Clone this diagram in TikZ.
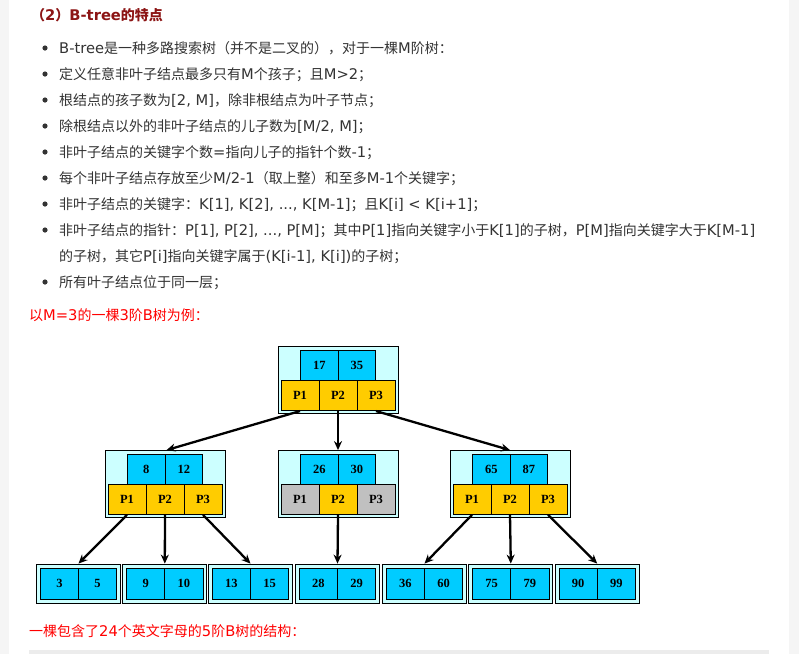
\documentclass[tikz,border=0pt]{standalone}
\usepackage{fontspec}
\setmainfont{DejaVu Sans}[Scale=1.05]
\newfontfamily\cjkfont{Noto Sans CJK SC}
\newfontfamily\numfont{Liberation Serif}
\usetikzlibrary{arrows.meta}
% automatic switch to the CJK font for CJK characters
\XeTeXinterchartokenstate=1
\newXeTeXintercharclass\cjkcls
\newcount\cjkcnt
\newcommand\cjkrange[2]{%
  \cjkcnt=#1\relax
  \loop
    \XeTeXcharclass\cjkcnt=\cjkcls
    \ifnum\cjkcnt<#2\relax
    \advance\cjkcnt by 1\relax
  \repeat}
\cjkrange{"3000}{"303F}
\cjkrange{"4E00}{"9FFF}
\cjkrange{"FF00}{"FFEF}
\XeTeXinterchartoks 0 \cjkcls = {\begingroup\cjkfont}
\XeTeXinterchartoks 4095 \cjkcls = {\begingroup\cjkfont}
\XeTeXinterchartoks \cjkcls 0 = {\endgroup}
\XeTeXinterchartoks \cjkcls 4095 = {\endgroup}
\definecolor{txtgray}{RGB}{51,51,51}
\definecolor{titlered}{RGB}{140,20,20}
\definecolor{lightcyan}{RGB}{204,255,255}
\definecolor{keyblue}{RGB}{0,204,255}
\definecolor{ptrgold}{RGB}{255,204,0}
\definecolor{ptrgray}{RGB}{192,192,192}
\definecolor{sidegray}{RGB}{245,245,245}
\definecolor{boxgray}{RGB}{236,236,236}
\tikzset{
  bodytext/.style={anchor=base west, inner sep=0pt, text=txtgray, font=\fontsize{14}{16}\selectfont},
  redtext/.style={anchor=base west, inner sep=0pt, text=red, font=\fontsize{14}{16}\selectfont},
  bulletdot/.style={fill=txtgray, draw=none},
  outerbox/.style={draw=black, fill=lightcyan, line width=0.8pt, inner sep=0pt},
  keycell/.style={draw=black, fill=keyblue, line width=0.7pt, minimum width=37.5, minimum height=30.5, inner sep=0pt, font=\numfont\bfseries\fontsize{12.5}{14}\selectfont},
  ptrcell/.style={draw=black, line width=0.7pt, minimum width=38, minimum height=30, inner sep=0pt, font=\numfont\bfseries\fontsize{12.5}{14}\selectfont},
  leafcell/.style={draw=black, fill=keyblue, line width=0.8pt, minimum width=38.2, minimum height=31, inner sep=0pt, font=\numfont\bfseries\fontsize{12.5}{14}\selectfont},
  arr/.style={draw=black, line width=2.3pt, -{Stealth[length=9pt,width=8pt]}}
}
\newcommand\BTinner[8]{%
  \node[outerbox, minimum width=120, minimum height=67] (#1) at (#2, #3+33.5) {};
  \node[keycell] (#1k1) at (#2-18.75, #3+18.75) {#4};
  \node[keycell] (#1k2) at (#2+18.75, #3+18.75) {#5};
  \node[ptrcell, fill=#6] (#1p1) at (#2-38, #3+49) {P1};
  \node[ptrcell, fill=#7] (#1p2) at (#2, #3+49) {P2};
  \node[ptrcell, fill=#8] (#1p3) at (#2+38, #3+49) {P3};
}
\newcommand\BTleaf[4]{%
  \node[outerbox, minimum width=84, minimum height=39] (#1) at (#2, 583.5) {};
  \node[leafcell] (#1a) at (#2-19.1, 583.7) {#3};
  \node[leafcell] (#1b) at (#2+19.1, 583.7) {#4};
}
\begin{document}
\begin{tikzpicture}[x=1pt,y=-1pt]
\useasboundingbox (0,0) rectangle (799,654);
\fill[white] (0,0) rectangle (799,654);
% side strips and bottom box
\fill[sidegray] (0,0) rectangle (9,654);
\fill[sidegray] (789,0) rectangle (799,654);
\fill[boxgray] (29,650) rectangle (769,654);

% title
\node[anchor=base west, inner sep=0pt, text=titlered, font=\bfseries\fontsize{14}{16}\selectfont] (title) at (31,20.5) {（2）B-tree的特点};

% bullets
\foreach \yy [count=\i] in {48,74,100,126,152,178,204,230,282} {
  \fill[bulletdot] (45,\yy) circle (2.6pt);
}
\node[bodytext] (l1) at (59,53) {B-tree是一种多路搜索树（并不是二叉的），对于一棵M阶树：};
\node[bodytext] (l2) at (59,79) {定义任意非叶子结点最多只有M个孩子；且M>2；};
\node[bodytext] (l3) at (59,105) {根结点的孩子数为[2, M]，除非根结点为叶子节点；};
\node[bodytext] (l4) at (59,131) {除根结点以外的非叶子结点的儿子数为[M/2, M]；};
\node[bodytext] (l5) at (59,157) {非叶子结点的关键字个数=指向儿子的指针个数-1；};
\node[bodytext] (l6) at (59,183) {每个非叶子结点存放至少M/2-1（取上整）和至多M-1个关键字；};
\node[bodytext] (l7) at (59,209) {非叶子结点的关键字：K[1], K[2], ..., K[M-1]；且K[i] < K[i+1]；};
\node[bodytext] (l8) at (59,235) {非叶子结点的指针：P[1], P[2], ..., P[M]；其中P[1]指向关键字小于K[1]的子树，P[M]指向关键字大于K[M-1]};
\node[bodytext] (l8b) at (59,261) {的子树，其它P[i]指向关键字属于(K[i-1], K[i])的子树；};
\node[bodytext] (l9) at (59,287) {所有叶子结点位于同一层；};

\node[redtext] (r1) at (29,320) {以M=3的一棵3阶B树为例：};
\node[redtext] (r2) at (29,636) {一棵包含了24个英文字母的5阶B树的结构：};

% tree
\BTinner{root}{338}{346.7}{17}{35}{ptrgold}{ptrgold}{ptrgold}
\BTinner{nl}{165}{450.5}{8}{12}{ptrgold}{ptrgold}{ptrgold}
\BTinner{nm}{338}{450.5}{26}{30}{ptrgray}{ptrgold}{ptrgray}
\BTinner{nr}{510}{450.5}{65}{87}{ptrgold}{ptrgold}{ptrgold}

\BTleaf{fa}{78.5}{3}{5}
\BTleaf{fb}{164.8}{9}{10}
\BTleaf{fc}{250.5}{13}{15}
\BTleaf{fd}{337.5}{28}{29}
\BTleaf{fe}{424.5}{36}{60}
\BTleaf{ff}{510.8}{75}{79}
\BTleaf{fg}{597.2}{90}{99}

\draw[arr] (rootp1.south) -- ([xshift=1.5pt]nl.north);
\draw[arr] (rootp2.south) -- (nm.north);
\draw[arr] (rootp3.south) -- (nr.north);
\draw[arr] (nlp1.south) -- (fa.north);
\draw[arr] (nlp2.south) -- (fb.north);
\draw[arr] (nlp3.south) -- (fc.north);
\draw[arr] (nmp2.south) -- (fd.north);
\draw[arr] (nrp1.south) -- (fe.north);
\draw[arr] (nrp2.south) -- (ff.north);
\draw[arr] (nrp3.south) -- (fg.north);
\end{tikzpicture}
\end{document}
